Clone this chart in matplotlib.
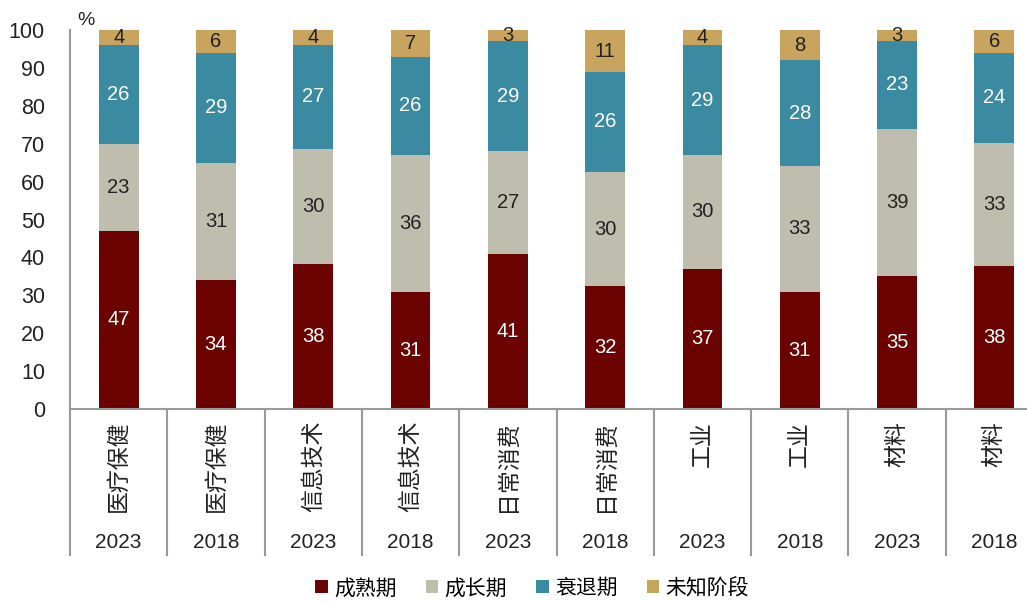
import matplotlib
matplotlib.use("Agg")
import matplotlib.pyplot as plt
from matplotlib.transforms import blended_transform_factory
from matplotlib.patches import Patch

plt.rcParams['font.family'] = ['Liberation Sans', 'Noto Sans CJK SC', 'DejaVu Sans']

sectors = ["医疗保健", "医疗保健", "信息技术", "信息技术", "日常消费", "日常消费", "工业", "工业", "材料", "材料"]
years = ["2023", "2018", "2023", "2018", "2023", "2018", "2023", "2018", "2023", "2018"]
series_names = ["成熟期", "成长期", "衰退期", "未知阶段"]
mature = [47, 34, 38, 31, 41, 32, 37, 31, 35, 38]
growth = [23, 31, 30, 36, 27, 30, 30, 33, 39, 33]
decline = [26, 29, 27, 26, 29, 26, 29, 28, 23, 24]
unknown = [4, 6, 4, 7, 3, 11, 4, 8, 3, 6]
yticks = [0, 10, 20, 30, 40, 50, 60, 70, 80, 90, 100]

colors = ["#6B0303", "#BFBDAE", "#3A8BA2", "#C9A45E"]
text_colors = ["white", "#222222", "white", "#222222"]

W, H = 1027, 601
fig = plt.figure(figsize=(W / 100, H / 100), dpi=100)
ax_left, ax_right_px, ax_top, ax_bot = 70, 1027, 30, 409
ax = fig.add_axes([ax_left / W, 1 - ax_bot / H, (ax_right_px - ax_left) / W, (ax_bot - ax_top) / H])

unit = 97.3
ax.set_xlim(-0.5, -0.5 + (ax_right_px - ax_left) / unit)
ax.set_ylim(0, 100)

x = list(range(len(sectors)))
all_series = [mature, growth, decline, unknown]
totals = [sum(vals) for vals in zip(*all_series)]
bottom = [0.0] * len(x)
for vals, c, tc in zip(all_series, colors, text_colors):
    heights = [v / t * 100 for v, t in zip(vals, totals)]
    ax.bar(x, heights, bottom=bottom, width=0.41, color=c, edgecolor='none')
    for xi, b, h, v in zip(x, bottom, heights, vals):
        ax.text(xi, b + h / 2, str(v), ha='center', va='center', fontsize=14.5, color=tc)
    bottom = [b + h for b, h in zip(bottom, heights)]

for s in ['top', 'right']:
    ax.spines[s].set_visible(False)
for s in ['left', 'bottom']:
    ax.spines[s].set_color('#999999')
    ax.spines[s].set_linewidth(1.5)

ax.set_yticks(yticks)
ax.set_yticklabels([str(t) for t in yticks], fontsize=15.5, color='#222222')
ax.tick_params(axis='y', length=0, pad=18)
ax.set_xticks([])

ax.text(-0.34, 102.6, "%", fontsize=14, color='#222222', ha='center', va='center',
        transform=ax.transData, clip_on=False)

trans = blended_transform_factory(ax.transData, ax.transAxes)
ax_h = ax_bot - ax_top
sep_bottom = -(555 - ax_bot) / ax_h
for i in range(len(sectors) + 1):
    ax.plot([i - 0.5, i - 0.5], [0, sep_bottom], transform=trans, color='#999999',
            lw=1.5, clip_on=False)

for xi, s, y in zip(x, sectors, years):
    ax.text(xi, -(421 - ax_bot) / ax_h, s, rotation=90, ha='center', va='top',
            fontsize=16.5, color='#222222', transform=trans, clip_on=False)
    ax.text(xi, -(543 - ax_bot) / ax_h, y, ha='center', va='center',
            fontsize=15, color='#222222', transform=trans, clip_on=False)

handles = [Patch(facecolor=c, edgecolor='none') for c in colors]
fig.legend(handles, series_names, loc='center', bbox_to_anchor=(532 / W, 1 - 588 / H),
           ncol=4, frameon=False, fontsize=15, handlelength=0.6, handleheight=0.6,
           handletextpad=0.3, columnspacing=1.4)

fig.savefig("out.png", dpi=100)
